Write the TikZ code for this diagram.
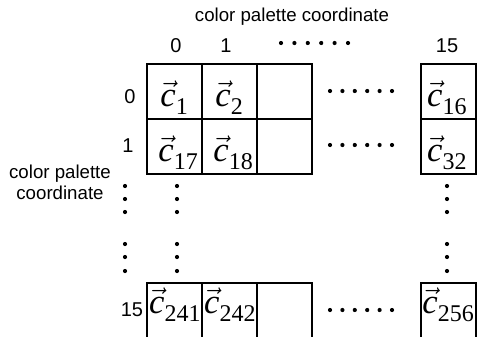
\documentclass[tikz,border=0pt]{standalone}
\usepackage{fontspec}
\setmainfont{Liberation Sans}
\newfontfamily\cserif{Liberation Serif}

% vector entry of the palette: arrow over an italic c, numeric subscript
\newcommand{\pvec}[1]{$\vec{\mbox{\fontsize{26}{26}\selectfont\cserif\itshape c}}_{\raisebox{-2.5pt}{\fontsize{18}{18}\selectfont\cserif #1}}$}

\begin{document}
\begin{tikzpicture}[x=0.75pt,y=-0.75pt,
  cell/.style={draw, line width=1.5pt, minimum width=41.25pt, minimum height=41.25pt,
               inner sep=0pt, outer sep=0pt},
  lbl/.style={font=\fontsize{14}{16}\selectfont, inner sep=0pt},
  num/.style={font=\fontsize{15}{16}\selectfont, inner sep=0pt},
  vc/.style={anchor=base, inner sep=0pt, font=\fontsize{25}{25}\selectfont},
  pdot/.style={fill=black}]
\useasboundingbox (0,0) rectangle (478,336);
\clip (0,0) rectangle (478,336);

% palette cells
\foreach \r/\y in {0/91.5, 1/146.5, f/310.5}{
  \node[cell] (c\r0) at (174.5,\y) {};
  \node[cell] (c\r1) at (229.5,\y) {};
  \node[cell] (c\r2) at (284.5,\y) {};
  \node[cell] (c\r f) at (448.5,\y) {};
}

% cell contents
\node[vc] (t00) at ([yshift=-32pt]c00.north) {\pvec{1}};
\node[vc] (t01) at ([yshift=-32pt]c01.north) {\pvec{2}};
\node[vc] (t0f) at ([xshift=-1pt,yshift=-32pt]c0f.north) {\pvec{16}};
\node[vc] (t10) at ([xshift=3pt,yshift=-32pt]c10.north) {\pvec{17}};
\node[vc] (t11) at ([xshift=3pt,yshift=-32pt]c11.north) {\pvec{18}};
\node[vc] (t1f) at ([xshift=-1pt,yshift=-32pt]c1f.north) {\pvec{32}};
\node[vc] (tf0) at ([xshift=0.5pt,yshift=-23pt]cf0.north) {\pvec{241}};
\node[vc] (tf1) at ([xshift=0.5pt,yshift=-23pt]cf1.north) {\pvec{242}};
\node[vc] (tff) at ([yshift=-23pt]cff.north) {\pvec{256}};

% axis labels
\node[lbl] (title) at (292,17) {color palette coordinate};
\node[num] (h0) at (176,46) {0};
\node[num] (h1) at (226,46) {1};
\node[num] (h15) at (447,46) {15};
\node[num] (v0) at (130,97) {0};
\node[num] (v1) at (128,146) {1};
\node[num] (v15) at (132,310) {15};
\node[lbl, align=center] (side) at (60,182) {color palette\\coordinate};

% horizontal ellipses
\foreach \i in {0,...,5}{
  \fill[pdot] ({281+13.4*\i},43) circle (2.1);
  \fill[pdot] ({330+12.4*\i},91) circle (2.1);
  \fill[pdot] ({330+12.4*\i},145) circle (2.1);
  \fill[pdot] ({330+12.4*\i},310) circle (2.1);
}
% vertical ellipses
\foreach \x in {125,177,447}{
  \foreach \y in {186,199,212,244,257,271}{
    \fill[pdot] (\x,\y) circle (2.1);
  }
}
\end{tikzpicture}
\end{document}
